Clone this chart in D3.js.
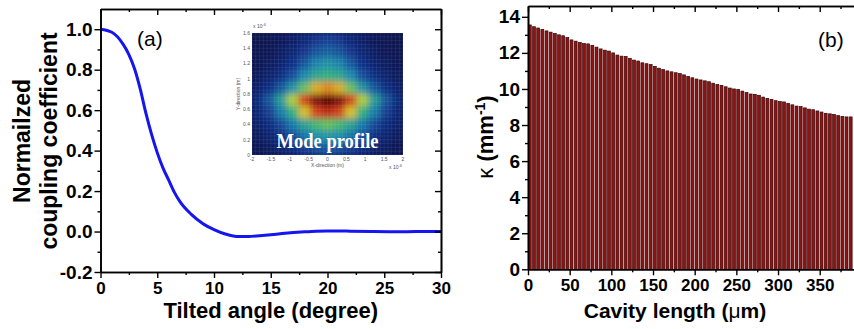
<!DOCTYPE html>
<html>
<head>
<meta charset="utf-8">
<script src="https://cdn.jsdelivr.net/npm/d3@7"></script>
<style>
  html, body { margin: 0; background: #fff; }
  svg { display: block; }
</style>
</head>
<body>
<svg id="chart" width="854" height="329"></svg>
<script>
// ---- data ----

// (a) normalized coupling coefficient vs tilted angle
const ANGLE = [0, 1, 2, 2.5, 3, 3.5, 4, 4.5, 5, 5.5, 6, 6.5, 7, 8, 9, 10, 11, 12, 13, 14, 15, 16, 17, 18, 19, 20, 21, 22, 24, 26, 28, 30];
const COUPLING = [1.0, 0.985, 0.925, 0.875, 0.805, 0.705, 0.585, 0.48, 0.39, 0.315, 0.255, 0.195, 0.148, 0.085, 0.04, 0.01, -0.012, -0.024, -0.025, -0.021, -0.016, -0.01, -0.005, -0.001, 0.002, 0.003, 0.003, 0.002, 0.0, -0.001, 0.0, 0.0];
const ANGLE_TICKS = [0, 5, 10, 15, 20, 25, 30];
const ANGLE_MINOR = [2.5, 7.5, 12.5, 17.5, 22.5, 27.5];
const COUPLING_TICKS = [-0.2, 0.0, 0.2, 0.4, 0.6, 0.8, 1.0];
const COUPLING_MINOR = [-0.1, 0.1, 0.3, 0.5, 0.7, 0.9];

// (b) kappa vs cavity length, one bar per 5 um bin
const CAVITY_LENGTH = [0, 5, 10, 15, 20, 25, 30, 35, 40, 45, 50, 55, 60, 65, 70, 75, 80, 85, 90, 95,
  100, 105, 110, 115, 120, 125, 130, 135, 140, 145, 150, 155, 160, 165, 170, 175, 180, 185, 190, 195,
  200, 205, 210, 215, 220, 225, 230, 235, 240, 245, 250, 255, 260, 265, 270, 275, 280, 285, 290, 295,
  300, 305, 310, 315, 320, 325, 330, 335, 340, 345, 350, 355, 360, 365, 370, 375, 380, 385];
const KAPPA = [13.55, 13.45, 13.38, 13.3, 13.22, 13.15, 13.08, 13.0, 12.95, 12.85,
  12.72, 12.65, 12.58, 12.52, 12.5, 12.42, 12.32, 12.22, 12.15, 12.1,
  12.0, 11.88, 11.82, 11.8, 11.7, 11.6, 11.55, 11.45, 11.4, 11.35,
  11.25, 11.15, 11.08, 11.0, 10.95, 10.9, 10.85, 10.78, 10.7, 10.62,
  10.55, 10.5, 10.45, 10.4, 10.32, 10.25, 10.2, 10.12, 10.05, 10.0,
  9.98, 9.88, 9.8, 9.72, 9.7, 9.65, 9.55, 9.48, 9.42, 9.35,
  9.3, 9.28, 9.2, 9.12, 9.05, 9.02, 8.95, 8.88, 8.85, 8.78,
  8.72, 8.65, 8.62, 8.58, 8.52, 8.48, 8.45, 8.45];
const BIN_WIDTH = 5;
const LENGTH_TICKS = [0, 50, 100, 150, 200, 250, 300, 350];
const LENGTH_MINOR = [25, 75, 125, 175, 225, 275, 325, 375];
const KAPPA_TICKS = [0, 2, 4, 6, 8, 10, 12, 14];
const KAPPA_MINOR = [1, 3, 5, 7, 9, 11, 13];

// inset: mode profile, coarse intensity grid (rows top -> bottom, 13 columns across x = -2..2)
const MODE_X_EDGES = [-2, -1.692, -1.385, -1.077, -0.769, -0.462, -0.154, 0.154, 0.462, 0.769, 1.077, 1.385, 1.692, 2];
const MODE_Y_EDGES = [1.6, 1.44, 1.28, 1.12, 0.96, 0.8, 0.64, 0.48, 0.32, 0.16, 0];
const MODE_INTENSITY = [
  [0.02, 0.03, 0.05, 0.08, 0.12, 0.17, 0.2, 0.17, 0.12, 0.08, 0.05, 0.03, 0.02],
  [0.03, 0.04, 0.07, 0.11, 0.17, 0.24, 0.27, 0.24, 0.17, 0.11, 0.07, 0.04, 0.03],
  [0.04, 0.06, 0.1, 0.16, 0.25, 0.34, 0.38, 0.34, 0.25, 0.16, 0.1, 0.06, 0.04],
  [0.06, 0.09, 0.15, 0.23, 0.35, 0.45, 0.48, 0.45, 0.35, 0.23, 0.15, 0.09, 0.06],
  [0.09, 0.15, 0.25, 0.38, 0.54, 0.67, 0.71, 0.67, 0.54, 0.38, 0.25, 0.15, 0.09],
  [0.14, 0.25, 0.42, 0.6, 0.8, 0.95, 1.0, 0.95, 0.8, 0.6, 0.42, 0.25, 0.14],
  [0.12, 0.2, 0.33, 0.48, 0.65, 0.8, 0.85, 0.8, 0.65, 0.48, 0.33, 0.2, 0.12],
  [0.09, 0.14, 0.22, 0.32, 0.43, 0.51, 0.54, 0.51, 0.43, 0.32, 0.22, 0.14, 0.09],
  [0.06, 0.1, 0.15, 0.22, 0.3, 0.36, 0.38, 0.36, 0.3, 0.22, 0.15, 0.1, 0.06],
  [0.04, 0.06, 0.09, 0.14, 0.19, 0.23, 0.25, 0.23, 0.19, 0.14, 0.09, 0.06, 0.04],
];
const MODE_X_TICKS = [-2, -1.5, -1, -0.5, 0, 0.5, 1, 1.5, 2];
const MODE_Y_TICKS = [0, 0.2, 0.4, 0.6, 0.8, 1, 1.2, 1.4, 1.6];

// ---- rendering ----
const FONT = "'Liberation Sans', Arial, Helvetica, sans-serif";
const SERIF = "'Liberation Serif', 'Times New Roman', serif";
const svg = d3.select('#chart');
// Origin prints a plain hyphen for negatives, not U+2212
const hyphenLocale = d3.formatLocale({ decimal: '.', thousands: ',', grouping: [3], currency: ['', ''], minus: '-' });

// Origin-style frame: outward major/minor ticks on bottom/left, inward mirrors on top/right.
function drawFrame(x, y, o) {
  const [xl, xr] = x.range();
  const [yb, yt] = y.range();
  const style = (a) => {
    a.select('.domain').attr('stroke', '#000').attr('stroke-width', 1.6);
    a.selectAll('.tick line').attr('stroke', '#000').attr('stroke-width', 1.4);
    a.selectAll('.tick text').attr('fill', '#000').attr('font-family', FONT).attr('font-weight', 'bold');
  };
  const add = (t, axis) => svg.append('g').attr('transform', t).call(axis.tickSizeOuter(0)).call(style);
  // tick marks only, no (empty) labels
  const bare = (t, axis) => add(t, axis).call((a) => a.selectAll('.tick text').remove());

  bare(`translate(0,${yb})`, d3.axisBottom(x).tickValues(o.xMinor).tickSize(3));
  add(`translate(0,${yb})`, d3.axisBottom(x).tickValues(o.xTicks).tickSize(6).tickPadding(4).tickFormat(o.xFormat))
    .selectAll('.tick text').attr('font-size', o.xFont);
  bare(`translate(0,${yt})`, d3.axisTop(x).tickValues(o.xMinor).tickSize(-3));
  bare(`translate(0,${yt})`, d3.axisTop(x).tickValues(o.xTicks).tickSize(-6));

  bare(`translate(${xl},0)`, d3.axisLeft(y).tickValues(o.yMinor).tickSize(3));
  add(`translate(${xl},0)`, d3.axisLeft(y).tickValues(o.yTicks).tickSize(6).tickPadding(2).tickFormat(o.yFormat))
    .selectAll('.tick text').attr('font-size', o.yFont);
  if (o.rightFrame) {
    bare(`translate(${xr},0)`, d3.axisRight(y).tickValues(o.yMinor).tickSize(-3));
    bare(`translate(${xr},0)`, d3.axisRight(y).tickValues(o.yTicks).tickSize(-6));
  }
}

// ---------- panel (a) ----------
const xA = d3.scaleLinear().domain([0, 30]).range([100.5, 441]);
const yA = d3.scaleLinear().domain([-0.2, 1.1]).range([272, 9]);

const line = d3.line().x((d, i) => xA(ANGLE[i])).y((d) => yA(d)).curve(d3.curveMonotoneX);
svg.append('path')
  .datum(COUPLING)
  .attr('fill', 'none')
  .attr('stroke', '#1515f0')
  .attr('stroke-width', 3)
  .attr('d', line);

drawFrame(xA, yA, {
  xTicks: ANGLE_TICKS, xMinor: ANGLE_MINOR, xFormat: d3.format('d'), xFont: '17px',
  yTicks: COUPLING_TICKS, yMinor: COUPLING_MINOR, yFormat: hyphenLocale.format('.1f'), yFont: '19px',
  rightFrame: true,
});

svg.append('text')
  .attr('x', 137).attr('y', 46)
  .attr('font-family', FONT).attr('font-size', 21)
  .text('(a)');

svg.append('text')
  .attr('x', xA(15)).attr('y', 318)
  .attr('text-anchor', 'middle')
  .attr('font-family', FONT).attr('font-weight', 'bold').attr('font-size', 22)
  .text('Tilted angle (degree)');

const yTitleA = svg.append('g').attr('transform', 'rotate(-90)')
  .attr('font-family', FONT).attr('font-weight', 'bold').attr('font-size', 23).attr('text-anchor', 'middle');
yTitleA.append('text').attr('x', -141).attr('y', 30).text('Normailzed');
yTitleA.append('text').attr('x', -141).attr('y', 57).text('coupling coefficient');

// ---------- inset: mode profile ----------
const xM = d3.scaleLinear().domain([-2, 2]).range([252, 403]);
const yM = d3.scaleLinear().domain([0, 1.6]).range([155, 33]);
const jet = d3.scaleLinear()
  .domain([0, 0.18, 0.35, 0.5, 0.63, 0.76, 0.9, 1])
  .range(['#050e44', '#13338f', '#1a88ae', '#36b478', '#d2d226', '#e4561a', '#a81010', '#560404'])
  .clamp(true);

const defs = svg.append('defs');
defs.append('clipPath').attr('id', 'modeClip')
  .append('rect')
  .attr('x', xM(-2)).attr('y', yM(1.6))
  .attr('width', xM(2) - xM(-2)).attr('height', yM(0) - yM(1.6));
defs.append('filter').attr('id', 'modeBlur')
  .attr('x', '-10%').attr('y', '-10%').attr('width', '120%').attr('height', '120%')
  .append('feGaussianBlur').attr('stdDeviation', 3.2).attr('edgeMode', 'duplicate');

const mode = svg.append('g').attr('clip-path', 'url(#modeClip)');
mode.append('rect')
  .attr('x', xM(-2)).attr('y', yM(1.6))
  .attr('width', xM(2) - xM(-2)).attr('height', yM(0) - yM(1.6))
  .attr('fill', jet(0.03));
const cells = MODE_INTENSITY.flatMap((row, r) => row.map((v, c) => ({ r, c, v })));
mode.append('g').attr('filter', 'url(#modeBlur)')
  .selectAll('rect')
  .data(cells)
  .join('rect')
  .attr('x', (d) => xM(MODE_X_EDGES[d.c]))
  .attr('y', (d) => yM(MODE_Y_EDGES[d.r]))
  .attr('width', (d) => xM(MODE_X_EDGES[d.c + 1]) - xM(MODE_X_EDGES[d.c]) + 0.5)
  .attr('height', (d) => yM(MODE_Y_EDGES[d.r + 1]) - yM(MODE_Y_EDGES[d.r]) + 0.5)
  .attr('fill', (d) => jet(d.v));

// simulation mesh over the field
const meshX = d3.range(-2, 2.001, 0.1);
const meshY = d3.range(0, 1.601, 0.05);
mode.append('g')
  .attr('stroke', '#d8f0ff').attr('stroke-opacity', 0.14).attr('stroke-width', 0.6)
  .call((g) => {
    g.selectAll('.mx').data(meshX).join('line')
      .attr('x1', (d) => xM(d)).attr('x2', (d) => xM(d)).attr('y1', yM(0)).attr('y2', yM(1.6));
    g.selectAll('.my').data(meshY).join('line')
      .attr('y1', (d) => yM(d)).attr('y2', (d) => yM(d)).attr('x1', xM(-2)).attr('x2', xM(2));
  });

svg.append('text')
  .attr('x', xM(0)).attr('y', 148)
  .attr('text-anchor', 'middle')
  .attr('font-family', SERIF).attr('font-weight', 'bold').attr('font-size', 22)
  .attr('textLength', 102).attr('lengthAdjust', 'spacingAndGlyphs')
  .attr('fill', '#fff')
  .text('Mode profile');

const insetText = svg.append('g').attr('font-family', FONT).attr('font-size', 5).attr('fill', '#555');
insetText.selectAll('.ity').data(MODE_Y_TICKS).join('text')
  .attr('x', xM(-2) - 2).attr('y', (d) => yM(d) + 1.8)
  .attr('text-anchor', 'end')
  .text((d) => d);
insetText.selectAll('.itx').data(MODE_X_TICKS).join('text')
  .attr('x', (d) => xM(d)).attr('y', yM(0) + 6)
  .attr('text-anchor', 'middle')
  .text((d) => d);
insetText.append('text').attr('x', xM(0)).attr('y', yM(0) + 12).attr('text-anchor', 'middle').text('X-direction (m)');
insetText.append('text').attr('transform', `translate(${xM(-2) - 12},${yM(0.8)}) rotate(-90)`)
  .attr('text-anchor', 'middle').text('Y-direction (m)');
insetText.append('text').attr('x', xM(-2) + 1).attr('y', yM(1.6) - 5).text('x 10')
  .append('tspan').attr('dy', -2).attr('font-size', 4).text('-6');
insetText.append('text').attr('x', xM(2) - 14).attr('y', yM(0) + 14).text('x 10')
  .append('tspan').attr('dy', -2).attr('font-size', 4).text('-6');

// ---------- panel (b) ----------
const xB = d3.scaleLinear().domain([0, 392]).range([528, 854.7]);
const yB = d3.scaleLinear().domain([0, 14.6]).range([269.3, 6]);
const binPx = xB(BIN_WIDTH) - xB(0);

svg.append('g')
  .selectAll('rect')
  .data(KAPPA)
  .join('rect')
  .attr('x', (d, i) => xB(CAVITY_LENGTH[i]) + 0.4)
  .attr('y', (d) => yB(d))
  .attr('width', binPx - 1.3)
  .attr('height', (d) => yB(0) - yB(d))
  .attr('fill', '#8c1414')
  .attr('stroke', '#3a0404')
  .attr('stroke-width', 0.7);

drawFrame(xB, yB, {
  xTicks: LENGTH_TICKS, xMinor: LENGTH_MINOR, xFormat: d3.format('d'), xFont: '17px',
  yTicks: KAPPA_TICKS, yMinor: KAPPA_MINOR, yFormat: d3.format('d'), yFont: '19px',
  rightFrame: false,
});

svg.append('text')
  .attr('x', 818).attr('y', 47)
  .attr('font-family', FONT).attr('font-size', 21)
  .text('(b)');

svg.append('text')
  .attr('x', 675).attr('y', 318)
  .attr('text-anchor', 'middle')
  .attr('font-family', FONT).attr('font-weight', 'bold').attr('font-size', 21)
  .call((t) => {
    t.append('tspan').text('Cavity length (');
    t.append('tspan').attr('font-weight', 'normal').text('\u03bc');
    t.append('tspan').text('m)');
  });

svg.append('text')
  .attr('transform', 'translate(493,137) rotate(-90)')
  .attr('text-anchor', 'middle')
  .attr('font-family', FONT).attr('font-weight', 'bold').attr('font-size', 22)
  .call((t) => {
    t.append('tspan').attr('font-weight', 'normal').text('\u03ba');
    t.append('tspan').text(' (mm');
    t.append('tspan').attr('font-size', 14).attr('dy', -8).text('-1');
    t.append('tspan').attr('dy', 8).text(')');
  });
</script>
</body>
</html>
